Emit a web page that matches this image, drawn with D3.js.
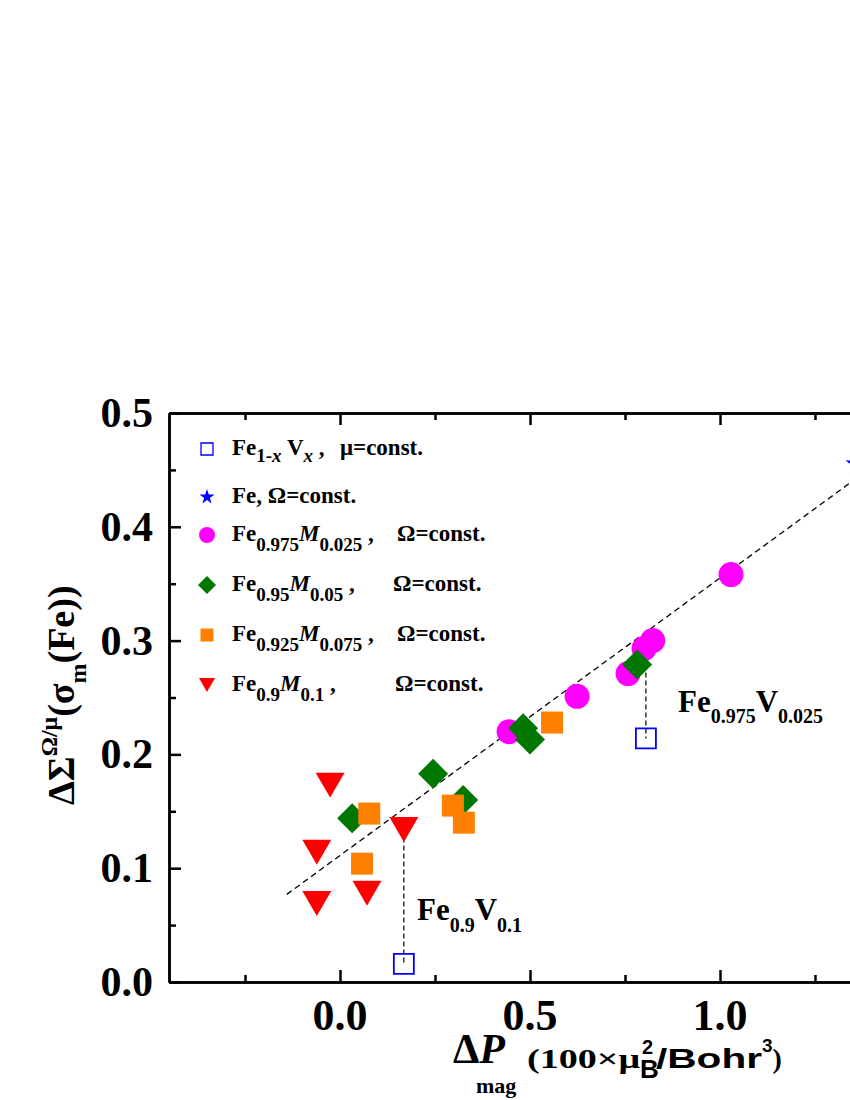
<!DOCTYPE html>
<html>
<head>
<meta charset="utf-8">
<script src="https://cdn.jsdelivr.net/npm/d3@7"></script>
<style>
  body { margin: 0; background: #fff; }
  svg { display: block; }
</style>
</head>
<body>
<svg id="chart" width="850" height="1100" font-family="'Liberation Serif', 'Times New Roman', 'DejaVu Serif', serif" font-weight="bold"></svg>
<script>
// data: [dPmag, dSigma]
var feV = [[0.168, 0.016], [0.805, 0.214]];           // Fe1-xVx, mu=const.
var feStar = [[1.36, 0.455]];                          // Fe, Omega=const.
var m025 = [[0.445, 0.220], [0.624, 0.251], [0.758, 0.271], [0.800, 0.293], [0.823, 0.300], [1.029, 0.358]];
var m05 = [[0.032, 0.144], [0.245, 0.183], [0.324, 0.160], [0.482, 0.223], [0.500, 0.213], [0.782, 0.279]];
var m075 = [[0.077, 0.148], [0.058, 0.104], [0.297, 0.155], [0.326, 0.140], [0.558, 0.228]];
var m1 = [[-0.026, 0.173], [-0.061, 0.114], [-0.061, 0.069], [0.071, 0.078], [0.168, 0.134]];
var fitLine = [[-0.14, 0.077], [1.50, 0.477]];
var dropLines = [[[0.168, 0.134], [0.168, 0.016]], [[0.805, 0.293], [0.805, 0.214]]];
var xMajor = [0.0, 0.5, 1.0];
var xMinor = [-0.25, 0.25, 0.75, 1.25];
var yMajor = [0.0, 0.1, 0.2, 0.3, 0.4, 0.5];
var yMinor = [0.05, 0.15, 0.25, 0.35, 0.45];

var svg = d3.select("#chart");
var x = d3.scaleLinear().domain([-0.45, 1.5]).range([169, 910]);
var y = d3.scaleLinear().domain([0, 0.5]).range([982, 413]);
var SANS = "'Liberation Sans', Arial, 'DejaVu Sans', sans-serif";

// axes with inward ticks
function axisG(axis, tr) {
  var g = svg.append("g").attr("transform", tr).call(axis);
  g.selectAll("path,line").attr("stroke", "#000").attr("stroke-width", 2.5);
  g.selectAll("text").remove();
  return g;
}
axisG(d3.axisBottom(x).tickValues(xMajor).tickSizeInner(-12).tickSizeOuter(0), "translate(0,982)");
axisG(d3.axisBottom(x).tickValues(xMinor).tickSizeInner(-7).tickSizeOuter(0), "translate(0,982)");
axisG(d3.axisTop(x).tickValues(xMajor).tickSizeInner(-12).tickSizeOuter(0), "translate(0,413)");
axisG(d3.axisTop(x).tickValues(xMinor).tickSizeInner(-7).tickSizeOuter(0), "translate(0,413)");
axisG(d3.axisLeft(y).tickValues(yMajor).tickSizeInner(-12).tickSizeOuter(0), "translate(169,0)");
axisG(d3.axisLeft(y).tickValues(yMinor).tickSizeInner(-7).tickSizeOuter(0), "translate(169,0)");

svg.append("g").selectAll("text").data(xMajor).join("text")
  .attr("x", d => x(d)).attr("y", 1030).attr("text-anchor", "middle")
  .attr("font-size", 44).text(d => d.toFixed(1));
svg.append("g").selectAll("text").data(yMajor).join("text")
  .attr("x", 153).attr("y", d => y(d) + 14).attr("text-anchor", "end")
  .attr("font-size", 42).text(d => d.toFixed(1));

// fit line and drop lines
var line = d3.line().x(d => x(d[0])).y(d => y(d[1]));
svg.append("path").attr("d", line(fitLine)).attr("fill", "none")
  .attr("stroke", "#000").attr("stroke-width", 1.3).attr("stroke-dasharray", "6,4");
svg.append("g").selectAll("path").data(dropLines).join("path")
  .attr("d", line).attr("fill", "none")
  .attr("stroke", "#000").attr("stroke-width", 1.2).attr("stroke-dasharray", "5,3");

// marker helpers
function tri(s) { // downward triangle, width s
  var h = s * 0.86;
  return "M" + (-s / 2) + "," + (-h / 2) + "L" + (s / 2) + "," + (-h / 2) + "L0," + (h / 2) + "Z";
}
function marks(data, path, fill, stroke, sw) {
  svg.append("g").selectAll("path").data(data).join("path")
    .attr("transform", d => "translate(" + x(d[0]) + "," + y(d[1]) + ")")
    .attr("d", path).attr("fill", fill).attr("stroke", stroke || "none")
    .attr("stroke-width", sw || 0);
}
var circ = d3.symbol(d3.symbolCircle, Math.PI * 12.5 * 12.5)();
var diam = "M0,-15L15,0L0,15L-15,0Z";
var sq = d3.symbol(d3.symbolSquare, 22 * 22)();
var osq = d3.symbol(d3.symbolSquare, 20 * 20)();

marks(m025, circ, "#ff00ff");
marks(m05, diam, "#007800");
marks(m075, sq, "#ff8000");
marks(m1, tri(29), "#ff0000");
marks(feV, osq, "none", "#0000ff", 1.8);
marks(feStar, d3.symbol(d3.symbolStar, 160)(), "#0000ff");

// rich text helper: segments [text, size, baselineOffset, opts]; uses dy so anchors stay one chunk
function rich(x0, y0, segs, parent) {
  var t = (parent || svg).append("text").attr("x", x0).attr("y", y0);
  var cur = 0;
  segs.forEach(function (s) {
    var o = s[3] || {};
    var ts = t.append("tspan").attr("font-size", s[1]).attr("dy", s[2] - cur).text(s[0]);
    cur = s[2];
    if (o.x != null) ts.attr("x", o.x);
    if (o.i) ts.attr("font-style", "italic");
    if (o.sans) ts.attr("font-family", SANS);
    if (o.len) ts.attr("textLength", o.len).attr("lengthAdjust", "spacingAndGlyphs");
  });
  return t;
}

// legend
var legX = 207;
var legRows = [449, 497, 535, 585, 635, 685];
svg.append("path").attr("transform", "translate(" + legX + "," + legRows[0] + ")")
  .attr("d", d3.symbol(d3.symbolSquare, 12 * 12)()).attr("fill", "none").attr("stroke", "#0000ff").attr("stroke-width", 1.3);
svg.append("path").attr("transform", "translate(" + legX + "," + legRows[1] + ")")
  .attr("d", d3.symbol(d3.symbolStar, 70)()).attr("fill", "#0000ff");
svg.append("path").attr("transform", "translate(" + legX + "," + legRows[2] + ")")
  .attr("d", d3.symbol(d3.symbolCircle, Math.PI * 8 * 8)()).attr("fill", "#ff00ff");
svg.append("path").attr("transform", "translate(" + legX + "," + legRows[3] + ")")
  .attr("d", "M0,-9L9,0L0,9L-9,0Z").attr("fill", "#007800");
svg.append("path").attr("transform", "translate(" + legX + "," + legRows[4] + ")")
  .attr("d", d3.symbol(d3.symbolSquare, 13 * 13)()).attr("fill", "#ff8000");
svg.append("path").attr("transform", "translate(" + legX + "," + legRows[5] + ")")
  .attr("d", tri(16)).attr("fill", "#ff0000");

var lf = 23, ls = 19;
rich(232, legRows[0] + 6, [["Fe", lf, 0], ["1-", ls, 7], ["x", ls, 7, {i: 1}], [" V", lf, 0], ["x", ls, 7, {i: 1}], [" ,", lf, 0], ["\u03bc=const.", lf, 0, {x: 340}]]);
rich(232, legRows[1] + 6, [["Fe, \u03a9=const.", lf, 0]]);
rich(232, legRows[2] + 6, [["Fe", lf, 0], ["0.975", ls, 10], ["M", lf, 0, {i: 1}], ["0.025", ls, 10], [" ,", lf, 0], ["\u03a9=const.", lf, 0, {x: 397}]]);
rich(232, legRows[3] + 6, [["Fe", lf, 0], ["0.95", ls, 10], ["M", lf, 0, {i: 1}], ["0.05", ls, 10], [" ,", lf, 0], ["\u03a9=const.", lf, 0, {x: 393}]]);
rich(232, legRows[4] + 6, [["Fe", lf, 0], ["0.925", ls, 10], ["M", lf, 0, {i: 1}], ["0.075", ls, 10], [" ,", lf, 0], ["\u03a9=const.", lf, 0, {x: 397}]]);
rich(232, legRows[5] + 6, [["Fe", lf, 0], ["0.9", ls, 10], ["M", lf, 0, {i: 1}], ["0.1", ls, 10], [" ,", lf, 0], ["\u03a9=const.", lf, 0, {x: 395}]]);

// annotations
rich(417, 920, [["Fe", 31, 0], ["0.9", 20, 12], ["V", 31, 0], ["0.1", 20, 12]]);
rich(678, 712, [["Fe", 31, 0], ["0.975", 20, 11], ["V", 31, 0], ["0.025", 20, 11]]);

// x axis title
rich(453, 1063, [["\u0394", 42, 0], ["P", 42, 0, {i: 1}], ["mag", 22, 30, {x: 476}],
  ["(100\u00d7\u03bc", 28, 5, {x: 527, len: 113}]]);
rich(640, 1078, [["B", 26, 0, {sans: 1}]]);
rich(642, 1054, [["2", 20, 0, {sans: 1}]]);
rich(656, 1068, [["/Bohr", 27, 0, {sans: 1, len: 106}], ["3", 19, -16, {sans: 1}], [")", 28, 0]]);

// y axis title, reads bottom to top
var yt = svg.append("g").attr("transform", "translate(74,805) rotate(-90)");
rich(0, 0, [["\u0394\u03a3", 38, 0], ["\u03a9/\u03bc", 24, -17], ["(\u03c3", 38, 0], ["m", 24, 12], ["(Fe))", 38, 0]], yt);
</script>
</body>
</html>
